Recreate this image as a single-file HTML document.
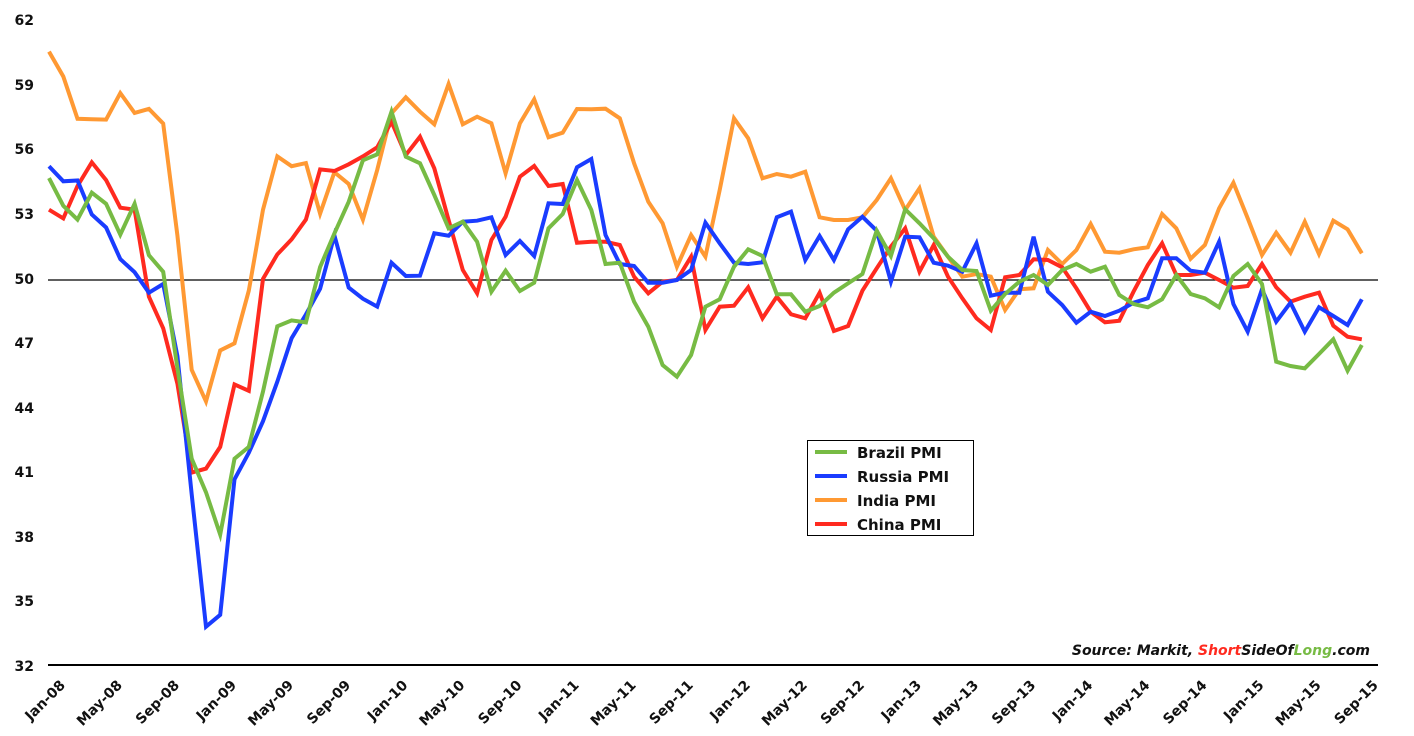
<!DOCTYPE html>
<html><head><meta charset="utf-8"><style>
html,body{margin:0;padding:0;background:#fff;width:1414px;height:736px;overflow:hidden}
svg text{font-family:"DejaVu Sans","Liberation Sans",sans-serif;font-weight:bold;fill:#111}
</style></head><body>
<svg id="s" width="1414" height="736" xmlns="http://www.w3.org/2000/svg">
<g font-size="14" text-anchor="end">
<text x="34" y="25">62</text>
<text x="34" y="90">59</text>
<text x="34" y="154">56</text>
<text x="34" y="219">53</text>
<text x="34" y="284">50</text>
<text x="34" y="348">47</text>
<text x="34" y="413">44</text>
<text x="34" y="477">41</text>
<text x="34" y="542">38</text>
<text x="34" y="606">35</text>
<text x="34" y="671">32</text>
</g>
<line x1="48" y1="280" x2="1378" y2="280" stroke="#000" stroke-width="1.2"/>
<line x1="48" y1="665" x2="1378" y2="665" stroke="#000" stroke-width="2"/>
<g id="xl" font-size="14" text-anchor="end"></g>
<g id="lines" fill="none" stroke-width="4" stroke-linejoin="miter"></g>
<rect x="807.5" y="440.5" width="166" height="95" fill="#fff" stroke="#000" stroke-width="1"/>
<g font-size="15">
<line x1="815" y1="452" x2="847" y2="452" stroke="#77bb44" stroke-width="4"/><text x="857" y="458">Brazil PMI</text>
<line x1="815" y1="476" x2="847" y2="476" stroke="#1a3cff" stroke-width="4"/><text x="857" y="482">Russia PMI</text>
<line x1="815" y1="500" x2="847" y2="500" stroke="#ff9933" stroke-width="4"/><text x="857" y="506">India PMI</text>
<line x1="815" y1="524" x2="847" y2="524" stroke="#ff2a1f" stroke-width="4"/><text x="857" y="530">China PMI</text>
</g>
<text x="1370" y="655" font-size="14" font-style="italic" text-anchor="end">Source: Markit, <tspan style="fill:#ff2a1f">Short</tspan>SideOf<tspan style="fill:#77bb44">Long</tspan>.com</text>
</svg>
<script>
var O=[51.6,76.5,118.8,119.2,119.6,93.1,112.9,108.9,123.6,235.4,369.8,401.4,350.4,343.3,290.7,209.7,156.4,166.2,163.1,213.7,172.2,184,219.6,
170,113.3,97.3,111.7,124.3,84,124.3,116.7,123.3,173.3,123.3,99.3,137.3,132.7,109,109.3,108.7,118.3,163.3,201.7,223.3,266.7,235,256.7,
190,118.3,138.3,178.3,174,176.7,171.7,217.3,220,220,217.3,200,178.3,210,188.3,236.7,256.7,276.7,274,276.7,310,289.3,288.3,
250,264,250,224,251.7,252.7,249.3,247.3,214,228.3,258.7,245,208.3,182.7,218.3,255,232.7,252.7,221.7,254,220.7,229.3,253.3];
var R=[209.7,218.4,186,162.3,180.1,207.7,209.7,296.7,328.3,383.6,472.6,468.6,446.9,384.4,390.8,278.9,254.4,239.4,219.6,169.4,171,164.3,156.4,147.3,
121.7,155,136.7,168.3,220,270,293.3,240,216.7,176.7,166,186,184,242.7,241.7,241.7,245,276.7,293.3,281.7,280,256.7,330,
306.7,305.7,287.3,318.3,296.7,314.3,318.3,292.7,331,326,290.7,268.3,246.7,228.3,271.7,245,276.7,298.3,318.3,330,277.3,275,259.3,
260,267.3,288.3,311.7,322.3,320.7,291.7,265,243.3,275,275,272.7,280,287.7,286,264,287.3,301.7,296.7,292.7,325.7,336.7,339.3];
var B=[166.2,181.3,180.5,214.5,227.5,259.1,272.2,292.7,284,356,494.3,626.7,614.8,479.3,452.8,421.2,381.7,338.2,314.5,288.8,235.4,287.6,298.7,306.6,
262.7,276,275.7,233.3,235.7,221.7,220.7,217.3,255,241,256,203.3,204,167.3,159,235,264,266,282.7,282.7,280,270,222.7,
243.3,262.7,264,262.3,217.3,211.7,260,236,260,229.3,216.7,230.7,281.7,236.7,237.3,262.7,265.7,271.7,243.3,295.7,292.7,292.7,236.7,
291.7,305,322.7,311.7,316,310.7,302.7,298.3,258.3,258.3,270.7,272.7,241.7,304,331.7,289.3,321.7,302.7,331.7,307.3,316,325,299.3];
var G=[178.1,205.8,219.6,192.7,203.8,234.6,203.8,255.2,271.8,367.8,458.7,492.3,534.6,458.7,446.9,391.5,326.3,320.4,322.4,267,233.4,201.8,160.3,154.4,
111.7,156.7,163.3,195,228.3,221.7,241.7,291.7,270.7,291,282.7,228.3,214,180,210,264,262.7,301.7,326.7,365,376.7,355,306.7,
299.3,266.7,249.3,256,294.3,294.3,311.7,306,292.7,283.3,274,230.7,256,209.3,223.3,238.3,256.7,270,271,310.7,294,281.7,275,
285,270,264,271.7,266.7,295,304,307.3,299.3,275,294,298.3,307.3,276,264,284,361.7,366,368.3,354,339.3,370.7,345];
var ns="http://www.w3.org/2000/svg",g=document.getElementById("lines");
[[O,"#ff9933"],[R,"#ff2a1f"],[B,"#1a3cff"],[G,"#77bb44"]].forEach(function(s){
 var d="";s[0].forEach(function(y,i){d+=(i?"L":"M")+(49+i*14.27).toFixed(1)+" "+y+" ";});
 var p=document.createElementNS(ns,"path");p.setAttribute("d",d);p.setAttribute("stroke",s[1]);g.appendChild(p);});
var L=["Jan-08","May-08","Sep-08","Jan-09","May-09","Sep-09","Jan-10","May-10","Sep-10","Jan-11","May-11","Sep-11","Jan-12","May-12","Sep-12","Jan-13","May-13","Sep-13","Jan-14","May-14","Sep-14","Jan-15","May-15","Sep-15"];
var xl=document.getElementById("xl");
L.forEach(function(t,k){var x=66+k*57.08,y=686;var e=document.createElementNS(ns,"text");
 e.setAttribute("transform","translate("+x+","+y+") rotate(-45)");e.textContent=t;xl.appendChild(e);});
</script>
</body></html>
